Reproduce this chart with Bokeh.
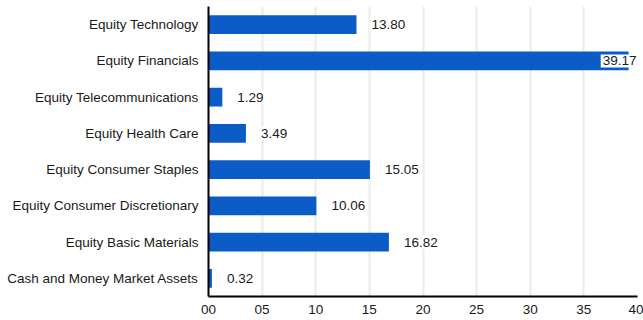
from bokeh.plotting import figure
from bokeh.models import ColumnDataSource, FactorRange, Range1d, FixedTicker, PrintfTickFormatter
from bokeh.core.properties import value
from bokeh.embed import file_html
from bokeh.resources import INLINE

categories = [
    "Equity Technology",
    "Equity Financials",
    "Equity Telecommunications",
    "Equity Health Care",
    "Equity Consumer Staples",
    "Equity Consumer Discretionary",
    "Equity Basic Materials",
    "Cash and Money Market Assets",
]
values = [13.80, 39.17, 1.29, 3.49, 15.05, 10.06, 16.82, 0.32]
x_ticks = [0, 5, 10, 15, 20, 25, 30, 35, 40]

XMAX = 40
FONT = "Liberation Sans"
FSIZE = "13.5px"
BAR_COLOR = "#0b5cc7"
TEXT_COLOR = "#1a1a1a"

factors = list(reversed(categories))

label_x = []
label_align = []
label_off = []
for v in values:
    if v + 4 > XMAX:
        label_x.append(XMAX)
        label_align.append("right")
        label_off.append(1)
    else:
        label_x.append(v)
        label_align.append("left")
        label_off.append(13)

src = ColumnDataSource(dict(
    cat=categories,
    val=values,
    lx=label_x,
    la=label_align,
    lo=label_off,
    txt=["%.2f" % v for v in values],
))

p = figure(
    width=643, height=320,
    y_range=FactorRange(factors=factors, range_padding=0),
    x_range=Range1d(0, XMAX),
    output_backend="svg",
    toolbar_location=None,
    min_border_left=208, min_border_right=6,
    min_border_top=6, min_border_bottom=24,
)
p.outline_line_color = None
p.background_fill_color = "white"
p.border_fill_color = "white"

p.hbar(y="cat", right="val", left=0, height=0.52, source=src,
       fill_color=BAR_COLOR, line_color=None)

p.text(x="lx", y="cat", text="txt", source=src,
       text_align="la", text_baseline="middle", x_offset="lo",
       text_font=value(FONT), text_font_size=FSIZE, text_color=TEXT_COLOR,
       background_fill_color="white", padding=2)

p.xgrid.grid_line_color = "#ebebeb"
p.xgrid.grid_line_width = 2
p.ygrid.grid_line_color = None

p.xaxis.ticker = FixedTicker(ticks=x_ticks)
p.xaxis.formatter = PrintfTickFormatter(format="%02d")
for ax in (p.xaxis[0], p.yaxis[0]):
    ax.axis_line_color = "black"
    ax.axis_line_width = 2
    ax.major_tick_line_color = None
    ax.minor_tick_line_color = None
    ax.major_tick_out = 0
    ax.major_tick_in = 0
    ax.major_label_text_font = FONT
    ax.major_label_text_font_size = FSIZE
    ax.major_label_text_color = TEXT_COLOR
p.xaxis.major_label_standoff = 8
p.yaxis.major_label_standoff = 10

open("out.html", "w").write(file_html(p, INLINE))
